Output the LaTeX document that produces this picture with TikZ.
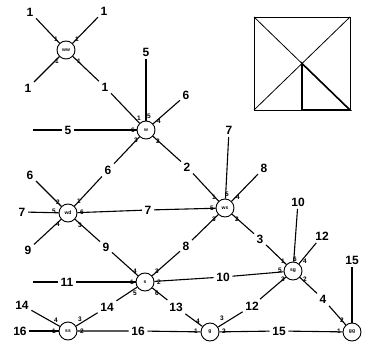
\documentclass[tikz,border=0pt]{standalone}
\usepackage{fontspec}
\setmainfont{Liberation Sans}
\begin{document}
\begin{tikzpicture}[x=1pt,y=-1pt,
  vtx/.style={draw,circle,line width=0.9pt,minimum size=18pt,inner sep=0pt,font=\fontsize{5}{5}\selectfont\bfseries},
  lbl/.style={inner sep=2.5pt,font=\fontsize{12}{12}\selectfont\bfseries},
  prt/.style={inner sep=0pt,font=\fontsize{6.5}{6.5}\selectfont\bfseries},
  edge/.style={line width=1.1pt},
  sq/.style={line width=0.8pt},
  tri/.style={line width=1.6pt}]
\useasboundingbox (0,0) rectangle (374,347);
% vertices
\node[vtx] (A) at (66,50) {ww};
\node[vtx] (N) at (146,130) {w};
\node[vtx] (WS) at (225,208) {ws};
\node[vtx] (WD) at (68,213) {wd};
\node[vtx] (S) at (145,282) {s};
\node[vtx] (SG) at (293,271) {sg};
\node[vtx] (SS) at (68,331) {ss};
\node[vtx] (G) at (210,332) {g};
\node[vtx] (GG) at (352,332) {gg};
% free-end labels
\node[lbl] (a1) at (30,12) {1};
\node[lbl] (a2) at (104,11) {1};
\node[lbl] (a3) at (28,88) {1};
\node[lbl] (n5) at (146,52) {5};
\node[lbl] (n6) at (186,95) {6};
\coordinate (n5e) at (33,130);
\node[lbl] (n5l) at (68,130) {5};
\node[lbl] (w7) at (229,130) {7};
\node[lbl] (w8) at (264,168) {8};
\node[lbl] (d6) at (30,175) {6};
\node[lbl] (d7) at (22,212) {7};
\node[lbl] (d9) at (28,250) {9};
\coordinate (s11e) at (33,282);
\node[lbl] (s11) at (67,282) {11};
\node[lbl] (ss14) at (22,305) {14};
\node[lbl] (ss16) at (20,331) {16};
\node[lbl] (g10) at (298,202) {10};
\node[lbl] (g12) at (322,236) {12};
\node[lbl] (gg15) at (352,260) {15};
% middle labels
\node[lbl] (m1) at (105,87) {1};
\node[lbl] (m6) at (108,170) {6};
\node[lbl] (m2) at (187,167) {2};
\node[lbl] (m7) at (148,210) {7};
\node[lbl] (m9) at (106,247) {9};
\node[lbl] (m8) at (186,246) {8};
\node[lbl] (m3) at (260,239) {3};
\node[lbl] (m10) at (223,277) {10};
\node[lbl] (m14) at (107,307) {14};
\node[lbl] (m13) at (176,307) {13};
\node[lbl] (m16) at (138,331) {16};
\node[lbl] (m12) at (252,306) {12};
\node[lbl] (m15) at (279,331) {15};
\node[lbl] (m4) at (323,299) {4};
% edges
\draw[edge] (A) -- (a1);
\draw[edge] (A) -- (a2);
\draw[edge] (A) -- (a3);
\draw[edge] (A) -- (m1) -- (N);
\draw[edge] (N) -- (n5);
\draw[edge] (N) -- (n6);
\draw[edge] (n5e) -- (n5l) -- (N);
\draw[edge] (N) -- (m6) -- (WD);
\draw[edge] (N) -- (m2) -- (WS);
\draw[edge] (WS) -- (w7);
\draw[edge] (WS) -- (w8);
\draw[edge] (WD) -- (d6);
\draw[edge] (WD) -- (d7);
\draw[edge] (WD) -- (d9);
\draw[edge] (WD) -- (m7) -- (WS);
\draw[edge] (WD) -- (m9) -- (S);
\draw[edge] (WS) -- (m8) -- (S);
\draw[edge] (WS) -- (m3) -- (SG);
\draw[edge] (s11e) -- (s11) -- (S);
\draw[edge] (S) -- (m10) -- (SG);
\draw[edge] (S) -- (m14) -- (SS);
\draw[edge] (S) -- (m13) -- (G);
\draw[edge] (SS) -- (ss14);
\draw[edge] (SS) -- (ss16);
\draw[edge] (SS) -- (m16) -- (G);
\draw[edge] (G) -- (m12) -- (SG);
\draw[edge] (G) -- (m15) -- (GG);
\draw[edge] (SG) -- (g10);
\draw[edge] (SG) -- (g12);
\draw[edge] (SG) -- (m4) -- (GG);
\draw[edge] (GG) -- (gg15);
% port labels
\node[prt] (pa1) at (56,39) {1};
\node[prt] (pa2) at (77,39) {1};
\node[prt] (pa3) at (57,61) {1};
\node[prt] (pa4) at (79,61) {1};
\node[prt] (pn1) at (139,118) {1};
\node[prt] (pn5) at (149,116) {5};
\node[prt] (pn4) at (159,121) {4};
\node[prt] (pn6) at (133,130) {6};
\node[prt] (pn3) at (136,140) {3};
\node[prt] (pn2) at (158,141) {2};
\node[prt] (pw1) at (214,197) {1};
\node[prt] (pw5t) at (227,194) {5};
\node[prt] (pw4) at (238,197) {4};
\node[prt] (pw5) at (212,208) {5};
\node[prt] (pw3) at (214,219) {3};
\node[prt] (pw2) at (237,219) {2};
\node[prt] (pd2) at (58,202) {2};
\node[prt] (pd1) at (79,201) {1};
\node[prt] (pd5) at (54,211) {5};
\node[prt] (pd6) at (82,212) {6};
\node[prt] (pd4) at (58,224) {4};
\node[prt] (pd3) at (80,225) {3};
\node[prt] (ps4) at (135,271) {4};
\node[prt] (ps3) at (157,271) {3};
\node[prt] (ps1) at (132,282) {1};
\node[prt] (ps2) at (159,282) {2};
\node[prt] (ps5) at (135,293) {5};
\node[prt] (ps6) at (157,293) {6};
\node[prt] (pss4) at (56,320) {4};
\node[prt] (pss3) at (80,319) {3};
\node[prt] (pss1) at (54,331) {1};
\node[prt] (pss2) at (82,331) {2};
\node[prt] (pg4) at (198,321) {4};
\node[prt] (pg3) at (222,318) {3};
\node[prt] (pg1) at (196,331) {1};
\node[prt] (pg2) at (224,331) {2};
\node[prt] (psg1) at (283,261) {1};
\node[prt] (psg6) at (295,259) {6};
\node[prt] (psg4) at (305,261) {4};
\node[prt] (psg5) at (280,270) {5};
\node[prt] (psg3) at (283,279) {3};
\node[prt] (psg2) at (305,279) {2};
\node[prt] (pgg2) at (342,320) {2};
\node[prt] (pgg1) at (339,331) {1};
% square inset
\coordinate (q1) at (254,17);
\coordinate (q2) at (350,17);
\coordinate (q3) at (350,110);
\coordinate (q4) at (254,110);
\coordinate (qc) at (302,63.5);
\coordinate (qb) at (302,110);
\draw[sq] (q1) -- (q2) -- (q3) -- (q4) -- cycle;
\draw[sq] (q1) -- (q3);
\draw[sq] (q2) -- (q4);
\draw[tri] (qc) -- (qb) -- (q3) -- cycle;
\end{tikzpicture}
\end{document}
